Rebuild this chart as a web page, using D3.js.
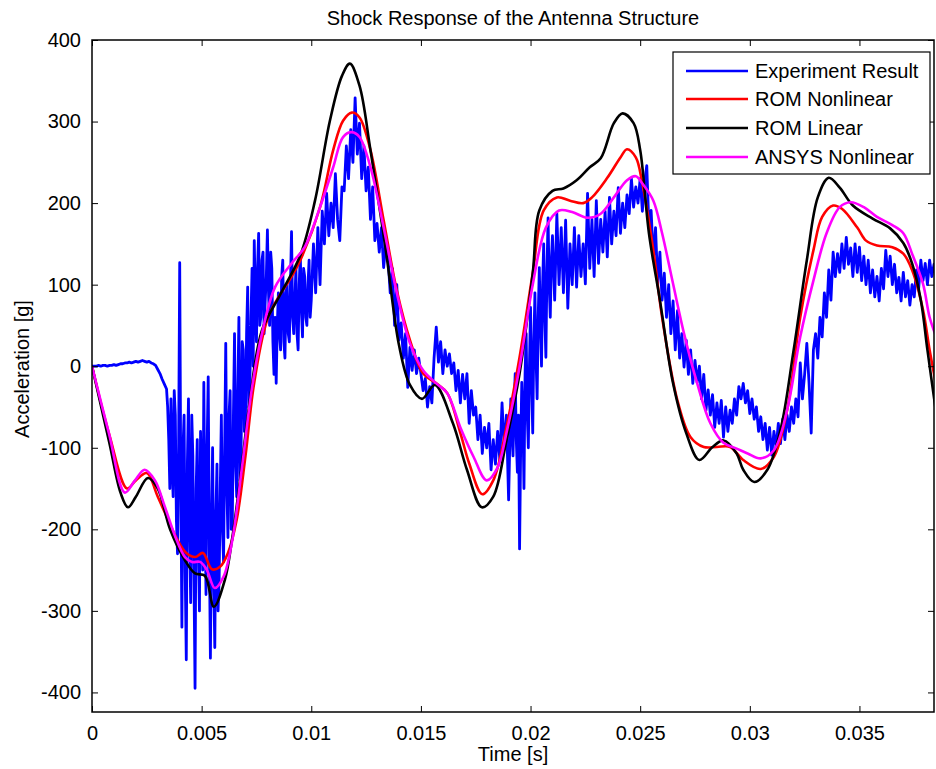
<!DOCTYPE html>
<html>
<head>
<meta charset="utf-8">
<script src="https://cdn.jsdelivr.net/npm/d3@7"></script>
<style>
  body { margin: 0; background: #fff; }
  svg { display: block; }
  text { font-family: Arial, "Liberation Sans", Helvetica, sans-serif; fill: #000; }
</style>
</head>
<body>
<svg id="chart" width="936" height="769"></svg>
<script>
// ---- data ---------------------------------------------------------------
// Measured acceleration [g], sampled every 0.1 ms from t = 0
const expSampleMs = 0.1;
const experimentG = [
  0, 0, 0, 1, 0, 1, 1, 0, 1, 1,
  2, 1, 2, 3, 3, 4, 4, 5, 4, 5,
  6, 5, 6, 7, 6, 5, 6, 4, 3, 1,
  -4, -9, -16, -22, -28, -90, -40, -160, -60, -230,
  127, -320, -60, -360, -40, -290, -110, -395, -90, -300,
  -150, -20, -280, -13, -358, -100, -345, -120, -260, -60,
  -240, 28, -210, -30, -190, 40, -160, 60, -100, 20,
  -60, 97, -20, 120, 154, 30, 163, 60, 140, 80,
  167, 50, 120, -10, -21, 90, 20, 130, 10, 100,
  30, 165, 40, 120, 20, 138, 36, 110, 50, 130,
  81, 150, 90, 170, 100, 190, 150, 212, 160, 200,
  170, 236, 180, 154, 220, 215, 270, 230, 290, 250,
  329, 260, 298, 230, 270, 215, 244, 180, 220, 154,
  175, 140, 170, 121, 150, 133, 90, 120, 50, 100,
  32, 53, 10, 40, -26, 23, -5, 20, -9, 10,
  -9, -30, -15, -50, -25, -45, 10, 48, 5, 30,
  -9, 20, 0, 15, -9, 4, -30, -5, -45, -10,
  -40, -9, -70, -30, -60, -50, -90, -60, -107, -75,
  -100, -70, -127, -90, -120, -80, -115, -45, -100, -60,
  -164, -40, -110, -9, -130, -224, -20, -150, 40, -100,
  72, -82, 90, -40, 121, 0, 150, 11, 182, 60,
  160, 81, 187, 100, 170, 90, 179, 71, 150, 100,
  170, 97, 160, 110, 150, 101, 212, 120, 180, 110,
  203, 126, 180, 140, 190, 134, 207, 150, 190, 160,
  219, 163, 200, 170, 210, 187, 230, 195, 220, 200,
  230, 190, 225, 246, 170, 191, 130, 170, 100, 140,
  81, 114, 60, 100, 40, 80, 20, 68, 10, 40,
  -1, 32, -10, 20, -21, 7, -20, 0, -40, -10,
  -54, -29, -60, -35, -75, -45, -70, -42, -87, -50,
  -80, -54, -70, -40, -60, -25, -40, -21, -45, -30,
  -58, -40, -65, -50, -80, -62, -90, -70, -103, -75,
  -109, -80, -100, -70, -95, -65, -90, -60, -80, -50,
  -70, -40, -62, 4, -40, -10, 28, -20, -82, 20,
  40, 10, 60, 36, 90, 60, 118, 81, 140, 110,
  138, 115, 150, 120, 158, 125, 145, 110, 150, 115,
  146, 105, 135, 100, 130, 90, 118, 85, 110, 80,
  120, 95, 142, 110, 135, 100, 125, 90, 109, 80,
  115, 85, 105, 75, 100, 85, 118, 95, 130, 105,
  126, 100, 130, 110, 125, 109
];

// Extra in-between samples (0.1 ms apart, offset by 0.05 ms) in the two bursts
const burstAStartMs = 3.45;
const burstAG = [
  -50, -150, -120, -30, -190, -100,
  -150, -100, -250, -120, -200, -60, -260, -150, -220, -80,
  -250, -180, -100, -220, -200, -260, -180, -300, -150, -200,
  -100, -150, -60, -200, -60, -120, -30, -140, 30, -80,
  40, -50, 60, 0, 80, 120, 50, 130, 40, 110,
  90, 140, 30, 60, 50, 40, 110, 30, 90, 40,
  100, 60, 80, 40, 100, 70, 120, 60, 100, 60
];
const burstBStartMs = 19.05;
const burstBG = [
  -100, -80, -50, -90, -60, -100, -60, -10, -60, 0,
  -20, 30, 10, 60, 50, 100, 60, 120, 100, 130
];

// ROM nonlinear prediction: time [ms] and acceleration [g]
const romNonlinearMs = [0, 0.8, 1.6, 2.0, 2.5, 3.0, 3.9, 4.3, 4.7, 5.06, 5.47, 5.84, 6.2, 6.6, 7.0, 7.4, 8.06, 9.1, 9.5, 10.4, 11.0, 11.45, 11.85, 12.2, 12.7, 13.3, 13.9, 14.5, 15.1, 15.7, 16.2, 16.8, 17.2, 17.8, 18.3, 18.9, 19.5, 20.1, 20.6, 21.2, 21.8, 22.4, 22.8, 23.5, 24.1, 24.4, 24.8, 25.1, 25.6, 26.0, 26.7, 27.3, 27.9, 28.5, 29.1, 29.7, 30.5, 31.1, 31.7, 32.3, 32.9, 33.3, 33.8, 34.2, 34.9, 35.3, 35.8, 36.5, 37.0, 37.4, 37.9, 38.2, 38.5];
const romNonlinearG = [0, -85, -150, -140, -131, -160, -213, -229, -234, -229, -249, -246, -229, -188, -110, -20, 62, 110, 130, 195, 265, 301, 311, 305, 265, 179, 93, 32, -9, -21, -33, -82, -119, -157, -140, -75, 11, 114, 191, 207, 203, 200, 207, 231, 256, 266, 256, 224, 142, 60, -42, -87, -99, -99, -99, -115, -126, -111, -54, 60, 142, 183, 197, 193, 170, 154, 148, 146, 138, 118, 69, 20, -23];

// ROM linear prediction
const romLinearMs = [0, 0.8, 1.3, 1.64, 2.0, 2.55, 3.0, 3.56, 4.24, 4.7, 5.15, 5.56, 6.06, 6.4, 6.75, 7.2, 7.75, 8.57, 9.5, 10.17, 10.85, 11.4, 11.76, 12.2, 12.7, 13.4, 14.0, 14.5, 15.05, 15.64, 16.46, 17.1, 17.78, 18.3, 18.9, 19.5, 20.1, 20.4, 21.0, 21.5, 22.1, 22.7, 23.2, 23.8, 24.2, 24.7, 25.0, 25.4, 25.9, 26.5, 27.1, 27.7, 28.3, 28.8, 29.4, 29.7, 30.2, 30.8, 31.4, 32.0, 32.6, 33.1, 33.6, 34.1, 34.7, 35.6, 36.4, 37.0, 37.4, 37.8, 38.1, 38.5];
const romLinearG = [0, -95, -155, -173, -160, -137, -150, -200, -238, -254, -257, -295, -262, -210, -140, -42, 44, 87, 136, 203, 301, 356, 371, 344, 265, 142, 26, -23, -40, -23, -70, -127, -173, -160, -91, -9, 114, 191, 215, 218, 228, 244, 255, 298, 310, 298, 265, 163, 81, -21, -82, -115, -99, -91, -107, -127, -142, -127, -78, 20, 130, 207, 231, 219, 197, 181, 169, 151, 126, 81, 20, -58];

// ANSYS nonlinear prediction
const ansysNonlinearMs = [0, 0.77, 1.5, 1.96, 2.4, 2.87, 3.33, 3.8, 4.24, 4.56, 4.93, 5.24, 5.6, 6.0, 6.4, 6.84, 7.3, 7.75, 8.35, 9.1, 9.7, 10.4, 11.0, 11.45, 11.85, 12.2, 12.7, 13.3, 13.9, 14.5, 15.1, 15.7, 16.2, 16.8, 17.4, 18.0, 18.5, 18.9, 19.5, 20.1, 20.7, 21.3, 21.9, 22.6, 23.2, 23.8, 24.4, 24.8, 25.1, 25.6, 26.0, 26.5, 27.0, 27.6, 28.2, 28.8, 29.4, 29.9, 30.5, 31.1, 31.7, 32.3, 32.9, 33.5, 34.1, 34.6, 35.2, 35.8, 36.5, 37.0, 37.4, 37.9, 38.2, 38.5];
const ansysNonlinearG = [0, -82, -155, -140, -127, -140, -173, -209, -234, -240, -240, -250, -272, -258, -213, -124, -26, 40, 97, 126, 146, 195, 244, 281, 287, 281, 244, 170, 90, 28, -5, -21, -33, -75, -111, -140, -124, -82, -1, 100, 170, 191, 189, 182, 187, 207, 228, 233, 224, 203, 163, 101, 40, -21, -70, -94, -101, -107, -113, -103, -54, 36, 105, 163, 195, 201, 195, 183, 173, 163, 138, 101, 60, 36];

const seriesNames = ["Experiment Result", "ROM Nonlinear", "ROM Linear", "ANSYS Nonlinear"];
const seriesColors = ["#0000ff", "#ff0000", "#000000", "#ff00ff"];

const xTickValues = [0, 0.005, 0.01, 0.015, 0.02, 0.025, 0.03, 0.035];
const xTickLabels = ["0", "0.005", "0.01", "0.015", "0.02", "0.025", "0.03", "0.035"];
const yTickValues = [-400, -300, -200, -100, 0, 100, 200, 300, 400];
const yTickLabels = ["-400", "-300", "-200", "-100", "0", "100", "200", "300", "400"];

// ---- layout -------------------------------------------------------------
const svg = d3.select("#chart");
const plot = { left: 92, right: 934, top: 40, bottom: 712 };
const fontSize = 20;

const x = d3.scaleLinear().domain([0, 0.0384]).range([plot.left, plot.right]);
const y = d3.scaleLinear().domain([-424, 400]).range([plot.bottom, plot.top]);

svg.append("defs").append("clipPath").attr("id", "plotClip")
  .append("rect")
  .attr("x", plot.left).attr("y", plot.top)
  .attr("width", plot.right - plot.left).attr("height", plot.bottom - plot.top);

// ---- series -------------------------------------------------------------
const toPoints = (ms, g) => ms.map((t, i) => [t / 1000, g[i]]);
const sampled = (startMs, stepMs, g) => g.map((v, i) => [(startMs + i * stepMs) / 1000, v]);
const expPoints = sampled(0, expSampleMs, experimentG)
  .concat(sampled(burstAStartMs, expSampleMs, burstAG))
  .concat(sampled(burstBStartMs, expSampleMs, burstBG))
  .sort((a, b) => a[0] - b[0]);

const rawLine = d3.line().x(d => x(d[0])).y(d => y(d[1]));
const smoothLine = d3.line().x(d => x(d[0])).y(d => y(d[1])).curve(d3.curveCatmullRom.alpha(0.5));

const layer = svg.append("g").attr("clip-path", "url(#plotClip)");
const lineData = [
  { pts: expPoints, gen: rawLine, color: seriesColors[0], w: 2.8 },
  { pts: toPoints(romNonlinearMs, romNonlinearG), gen: smoothLine, color: seriesColors[1], w: 2.6 },
  { pts: toPoints(romLinearMs, romLinearG), gen: smoothLine, color: seriesColors[2], w: 2.6 },
  { pts: toPoints(ansysNonlinearMs, ansysNonlinearG), gen: smoothLine, color: seriesColors[3], w: 2.6 }
];
lineData.forEach(s => {
  layer.append("path")
    .attr("d", s.gen(s.pts))
    .attr("fill", "none")
    .attr("stroke", s.color)
    .attr("stroke-width", s.w)
    .attr("stroke-linejoin", "round");
});

// ---- axes (box with inward ticks) ---------------------------------------
const tickLen = 6;
const xAxis = d3.axisBottom(x).tickValues(xTickValues)
  .tickFormat((d, i) => xTickLabels[i]).tickSize(-tickLen).tickPadding(14);
const xAxisTop = d3.axisTop(x).tickValues(xTickValues).tickFormat("").tickSize(-tickLen);
const yAxis = d3.axisLeft(y).tickValues(yTickValues)
  .tickFormat((d, i) => yTickLabels[i]).tickSize(-tickLen).tickPadding(11);
const yAxisRight = d3.axisRight(y).tickValues(yTickValues).tickFormat("").tickSize(-tickLen);

function styleAxis(g) {
  g.select(".domain").remove();
  g.selectAll(".tick line").attr("stroke", "#000").attr("stroke-width", 1);
  g.selectAll(".tick text").attr("font-size", fontSize)
    .attr("font-family", "Arial, 'Liberation Sans', sans-serif").attr("fill", "#000");
}
svg.append("g").attr("transform", `translate(0,${plot.bottom})`).call(xAxis).call(styleAxis);
svg.append("g").attr("transform", `translate(0,${plot.top})`).call(xAxisTop).call(styleAxis);
svg.append("g").attr("transform", `translate(${plot.left},0)`).call(yAxis).call(styleAxis);
svg.append("g").attr("transform", `translate(${plot.right},0)`).call(yAxisRight).call(styleAxis);

svg.append("rect")
  .attr("x", plot.left).attr("y", plot.top)
  .attr("width", plot.right - plot.left).attr("height", plot.bottom - plot.top)
  .attr("fill", "none").attr("stroke", "#000").attr("stroke-width", 1.5);

// ---- titles -------------------------------------------------------------
svg.append("text").attr("x", 513).attr("y", 25).attr("text-anchor", "middle")
  .attr("font-size", fontSize).text("Shock Response of the Antenna Structure");
svg.append("text").attr("x", 513).attr("y", 761).attr("text-anchor", "middle")
  .attr("font-size", fontSize).text("Time [s]");
svg.append("text").attr("transform", "translate(29,369) rotate(-90)").attr("text-anchor", "middle")
  .attr("font-size", fontSize).text("Acceleration [g]");

// ---- legend -------------------------------------------------------------
const legend = svg.append("g");
legend.append("rect")
  .attr("x", 673).attr("y", 52).attr("width", 257).attr("height", 122)
  .attr("fill", "#fff").attr("stroke", "#000").attr("stroke-width", 1.2);
const rowY = [71, 99, 128, 157];
seriesNames.forEach((name, i) => {
  legend.append("line")
    .attr("x1", 686).attr("x2", 748).attr("y1", rowY[i]).attr("y2", rowY[i])
    .attr("stroke", seriesColors[i]).attr("stroke-width", 2.6);
  legend.append("text").attr("x", 755).attr("y", rowY[i] + 7)
    .attr("font-size", fontSize).text(name);
});
</script>
</body>
</html>
